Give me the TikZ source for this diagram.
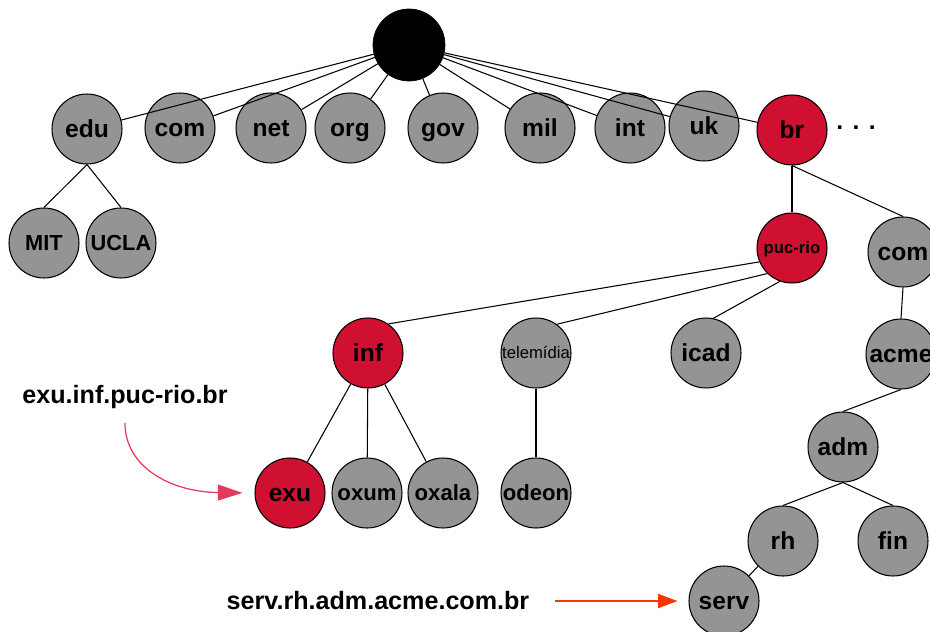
\documentclass[tikz,border=0pt]{standalone}
\usepackage{fontspec}
\setmainfont{Liberation Sans}
\usetikzlibrary{arrows.meta}
\definecolor{nodegray}{RGB}{148,148,148}
\definecolor{domred}{RGB}{208,16,48}
\definecolor{pinkarrow}{RGB}{226,60,90}
\definecolor{orangearrow}{RGB}{255,51,0}

\begin{document}
\begin{tikzpicture}[x=0.02cm,y=-0.02cm,
  dom/.style={circle,draw=black,line width=0.6pt,fill=nodegray,
    minimum size=1.4cm,inner sep=0pt,font=\fontsize{14}{16}\selectfont\bfseries,
    text height=10pt,text depth=0pt},
  sel/.style={dom,fill=domred},
  smalltxt/.style={font=\fontsize{9.5}{11}\selectfont\bfseries,text height=6.8pt},
  plaintxt/.style={font=\fontsize{9.5}{11}\selectfont,text height=6.8pt},
  midtxt/.style={font=\fontsize{12.6}{14}\selectfont\bfseries,text height=9pt},
  unitxt/.style={font=\fontsize{12.4}{14}\selectfont\bfseries,text height=8.9pt},
  link/.style={line width=0.6pt},
  caption/.style={font=\fontsize{14.3}{17}\selectfont\bfseries,inner sep=0pt}]

\useasboundingbox (0,0) rectangle (930,632);

% root of the name space
\node[circle,fill=black,draw=black,minimum size=1.44cm,inner sep=0pt] (root) at (409,45) {};

% top-level domains
\node[dom] (edu) at (87,129) {edu};
\node[dom] (com) at (180,128) {com};
\node[dom] (net) at (271,128) {net};
\node[dom] (org) at (350,128) {org};
\node[dom] (gov) at (443,128) {gov};
\node[dom] (mil) at (540,128) {mil};
\node[dom] (int) at (630,128) {int};
\node[dom] (uk)  at (704,126) {uk};
\node[sel] (br)  at (792,130) {br};
\node[font=\fontsize{14}{16}\selectfont\bfseries,inner sep=0pt] (more) at (856,128) {.\hspace{5.4pt}.\hspace{5.4pt}.};

% second level
\node[dom,unitxt] (mit)  at (44,243) {MIT};
\node[dom,unitxt] (ucla) at (121,243) {UCLA};
\node[sel,smalltxt] (puc) at (792,248) {puc-rio};
\node[dom] (combr) at (903,252) {com};

% third level
\node[sel] (inf) at (368,353) {inf};
\node[dom,plaintxt] (tele) at (536,353) {telemídia};
\node[dom] (icad) at (706,353) {icad};
\node[dom] (acme) at (901,354) {acme};

% fourth level and below
\node[sel] (exu)   at (290,493) {exu};
\node[dom,midtxt] (oxum)  at (367,493) {oxum};
\node[dom,midtxt] (oxala) at (443,493) {oxala};
\node[dom,midtxt] (odeon) at (536,493) {odeon};
\node[dom] (adm)   at (843,447) {adm};
\node[dom] (rh)    at (783,541) {rh};
\node[dom] (fin)   at (893,541) {fin};
\node[dom] (serv)  at (724,601) {serv};

% tree edges
\foreach \c in {edu,com,net,org,gov,mil,int,uk,br}
  \draw[link] (root) -- (\c);
\draw[link] (edu.south) -- (mit.north);
\draw[link] (edu.south) -- (ucla.north);
\draw[link] (br.south) -- (puc.north);
\draw[link] (br.south) -- (combr.north);
\draw[link] (puc.203) -- (inf.55);
\draw[link] (puc.226) -- (tele.54);
\draw[link] (puc.250) -- (icad.78);
\draw[link] (inf) -- (exu);
\draw[link] (inf) -- (oxum);
\draw[link] (inf) -- (oxala);
\draw[link] (tele.south) -- (odeon.north);
\draw[link] (combr.south) -- (acme.north);
\draw[link] (acme.south) -- (adm.north);
\draw[link] (adm.south) -- (rh.north);
\draw[link] (adm.south) -- (fin.north);
\draw[link] (rh) -- (serv);

% full names with pointers
\node[caption] (exulbl) at (125,397) {exu.inf.puc-rio.br};
\coordinate (exustart) at (125,423);
\draw[pinkarrow,line width=0.7pt,-{Triangle[length=14pt,width=9pt]},shorten >=0.24cm]
  (exustart) .. controls (125,468) and (172,492) .. (exu.west);

\node[caption] (servlbl) at (378,601) {serv.rh.adm.acme.com.br};
\draw[orangearrow,line width=0.8pt,-{Triangle[length=11pt,width=8pt]},
  shorten <=0.5cm,shorten >=0.22cm] (servlbl.east) -- (serv.west);

\end{tikzpicture}
\end{document}
